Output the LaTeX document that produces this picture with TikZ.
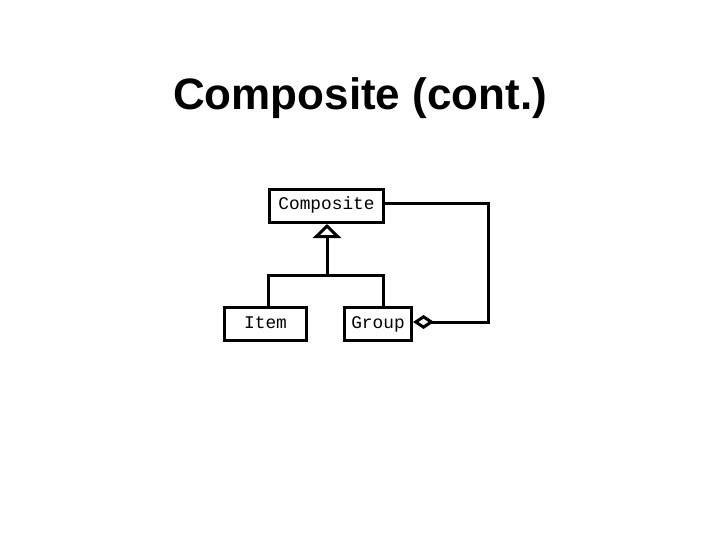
\documentclass[tikz,border=0pt]{standalone}
\usepackage{fontspec}
\setmainfont{Liberation Sans}
\newfontfamily\boxfont{Liberation Mono}
\usetikzlibrary{arrows.meta}
\begin{document}
\begin{tikzpicture}[x=1pt,y=-1pt,
  cls/.style={draw, line width=3pt, font=\boxfont\fontsize{17.8}{19}\selectfont, inner sep=0pt, anchor=north west, text height=11pt, text depth=3pt},
  conn/.style={line width=3pt}]
\useasboundingbox (0,0) rectangle (720,540);
\node[font=\bfseries\fontsize{44}{50}\selectfont] (title) at (360,98) {Composite (cont.)};
\node[cls, minimum width=114pt, minimum height=33pt] (comp) at (268,188) {Composite};
\node[cls, minimum width=82pt, minimum height=33pt] (item) at (223,306) {Item};
\node[cls, minimum width=67pt, minimum height=33pt] (group) at (343,306) {Group};
\coordinate (j) at (327,275);
\coordinate (r1) at (488,204);
\coordinate (r2) at (488,322);
\draw[conn, -{Triangle[open, length=14pt, width=28pt, line width=3pt]}] (j) -- (comp.south -| j);
\draw[conn] (item.north -| 268,0) |- (j) -| (group.north -| 383,0);
\draw[conn, {Diamond[open, length=21pt, width=14pt, line width=3pt]}-] (group.east |- r2) -- (r2) -- (r1) -- (comp.east |- r1);
\end{tikzpicture}
\end{document}
